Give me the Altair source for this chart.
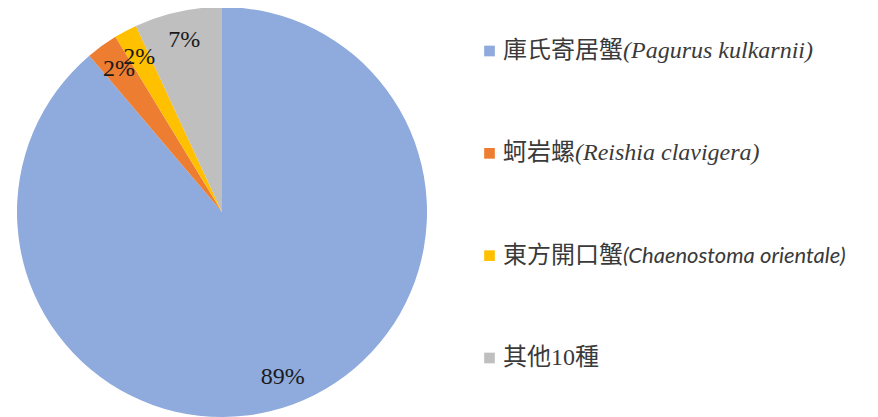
import altair as alt
import pandas as pd

# ---- data ----
cjk_names = ["庫氏寄居蟹", "蚵岩螺", "東方開口蟹", "其他10種"]
latin_names = ["(Pagurus kulkarnii)", "(Reishia clavigera)", "(Chaenostoma orientale)", ""]
shares = [88.8, 2.5, 1.8, 6.9]
pct_labels = ["89%", "2%", "2%", "7%"]
colors = ["#8FAADC", "#ED7D31", "#FFC000", "#BFBFBF"]

species = [c + l for c, l in zip(cjk_names, latin_names)]
df = pd.DataFrame({
    "species": species,
    "cjk": cjk_names,
    "latin": latin_names,
    "share": shares,
    "pct": pct_labels,
    "order": list(range(len(species))),
    "cjk_len": [len(c) for c in cjk_names],
})

SERIF = "Liberation Serif"
color_scale = alt.Scale(domain=species, range=colors)
y_scale = alt.Scale(type="point", domain=species, range=[43, 350], padding=0)
x_scale = alt.Scale(domain=[0, 1], range=[495, 519], nice=False, zero=False)

CX, CY = 214, 204
base = alt.Chart(df)

pie = base.mark_arc(radius=205).encode(
    theta=alt.Theta("share:Q", stack=True),
    color=alt.Color("species:N", scale=color_scale, legend=None),
    order=alt.Order("order:Q"),
    x=alt.value(CX),
    y=alt.value(CY),
)

labels = base.mark_text(
    radius=176, font=SERIF, fontSize=24, color="#1a1a1a",
    align="center", baseline="middle",
).encode(
    theta=alt.Theta("share:Q", stack=True),
    order=alt.Order("order:Q"),
    text="pct:N",
    x=alt.value(CX),
    y=alt.value(CY),
)

squares = base.mark_point(shape="square", filled=True, size=114, opacity=1).encode(
    x=alt.value(481.5),
    y=alt.Y("species:N", scale=y_scale, axis=None),
    color=alt.Color("species:N", scale=color_scale, legend=None),
)

cjk_text = base.mark_text(
    align="left", baseline="middle",
    font="Liberation Serif, Noto Sans CJK TC", fontSize=24, color="#3a3a3a",
).encode(
    x=alt.value(495),
    y=alt.Y("species:N", scale=y_scale, axis=None),
    text="cjk:N",
)

latin_serif = base.transform_filter("datum.order < 2").mark_text(
    align="left", baseline="middle",
    font=SERIF, fontStyle="italic", fontSize=24, color="#3a3a3a",
).encode(
    x=alt.X("cjk_len:Q", scale=x_scale, axis=None),
    y=alt.Y("species:N", scale=y_scale, axis=None),
    text="latin:N",
)

latin_sans = base.transform_filter("datum.order == 2").mark_text(
    align="left", baseline="middle",
    font="Lato", fontStyle="italic", fontSize=22, color="#3a3a3a",
).encode(
    x=alt.X("cjk_len:Q", scale=x_scale, axis=None),
    y=alt.Y("species:N", scale=y_scale, axis=None),
    text="latin:N",
)

chart = alt.layer(pie, labels, squares, cjk_text, latin_serif, latin_sans).properties(
    width=862, height=409, padding=0,
    autosize=alt.AutoSizeParams(type="none"),
).configure_view(stroke=None)

chart.save("out.html", embed_options={"renderer": "svg", "actions": False})
